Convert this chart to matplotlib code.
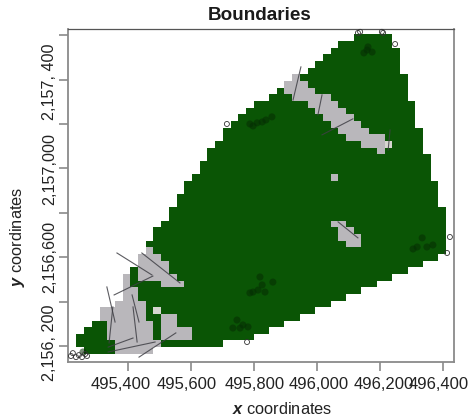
import matplotlib
matplotlib.use("Agg")
import matplotlib.pyplot as plt
from matplotlib.colors import ListedColormap
from matplotlib.transforms import ScaledTranslation
import numpy as np

plt.rcParams["font.family"] = ["Liberation Sans", "DejaVu Sans"]
plt.rcParams["mathtext.fontset"] = "custom"
plt.rcParams["mathtext.it"] = "Liberation Sans:italic:bold"

# grid of the raster
x_start = 495235.5
x_step = 24.45
y_start = 2156165
y_step = 29.96
n_cols = 48

# first and last+1 column of every row, bottom row first
row_start = [1, 0, 0, 1, 2, 3, 3, 5, 6, 6, 6, 6, 7, 8, 8, 9, 9, 10, 10, 11, 12, 12, 13, 13,
             14, 14, 15, 16, 16, 17, 17, 18, 19, 19, 20, 21, 22, 23, 25, 26, 27, 28, 30, 31,
             32, 33, 34, 36]
row_end = [5, 19, 23, 25, 27, 29, 31, 33, 35, 37, 39, 41, 43, 45, 47, 48, 48, 48, 48, 48, 48,
           48, 47, 47, 47, 47, 46, 46, 46, 46, 45, 45, 45, 45, 44, 44, 44, 44, 43, 43, 43, 43,
           42, 42, 42, 42, 41, 41]
# (row, first column, last+1 column)
gray_runs = [(0, 5, 10), (1, 5, 11), (2, 4, 10), (2, 11, 15), (3, 4, 10), (3, 11, 15),
             (4, 4, 10), (4, 11, 13), (5, 3, 9), (5, 11, 13), (6, 3, 9), (7, 5, 9), (8, 6, 8),
             (9, 6, 8), (10, 6, 7), (10, 11, 14), (11, 6, 7), (11, 8, 13), (12, 8, 12),
             (13, 8, 12), (14, 8, 11), (15, 9, 10), (16, 35, 37), (17, 34, 37), (18, 34, 36),
             (19, 33, 35), (26, 33, 34), (30, 39, 40), (31, 37, 40), (32, 35, 40),
             (33, 34, 38), (34, 33, 37), (35, 32, 36), (36, 31, 35), (37, 30, 34),
             (38, 28, 33), (39, 27, 31), (40, 27, 30), (41, 28, 29)]
light_cells = [(6, 10), (31, 40)]

# boundary points outside the raster
edge_x = [495218, 495224, 495234, 495243, 495253, 495263, 495269,
          496136, 496129, 496205, 496209, 496247, 495713, 496421, 496412, 495777]
edge_y = [2156155, 2156168, 2156150, 2156159, 2156150, 2156164, 2156155,
          2157615, 2157610, 2157615, 2157610, 2157560, 2157200, 2156691, 2156619, 2156218]

# boundary points on top of the green cells
inner_x = [495256, 496158, 496161, 496148, 496174,
           495809, 495856, 495825, 495786, 495837, 495796,
           496317, 496333, 496367, 496304, 496348,
           495818, 495796, 495812, 495859, 495786, 495834, 495825,
           495745, 495755, 495732, 495780, 495764]
inner_y = [2156173, 2157533, 2157547, 2157520, 2157524,
           2157205, 2157232, 2157209, 2157200, 2157218, 2157191,
           2156646, 2156687, 2156655, 2156637, 2156646,
           2156511, 2156443, 2156452, 2156488, 2156439, 2156443, 2156475,
           2156317, 2156281, 2156281, 2156286, 2156295]

# boundary segments x1, y1, x2, y2
segments = [(495364, 2156619, 495475, 2156520), (495443, 2156619, 495564, 2156484),
            (495355, 2156430, 495478, 2156515), (495332, 2156466, 495358, 2156308),
            (495351, 2156376, 495339, 2156214), (495412, 2156430, 495434, 2156308),
            (495415, 2156376, 495428, 2156218), (495336, 2156195, 495415, 2156236),
            (495336, 2156173, 495485, 2156218), (495434, 2156150, 495551, 2156259),
            (495948, 2157457, 495923, 2157308), (496015, 2157331, 496002, 2157241),
            (496015, 2157151, 496113, 2157223), (496231, 2157173, 496225, 2157083),
            (496066, 2156759, 496129, 2156687)]

x_ticks = [495400, 495600, 495800, 496000, 496200, 496400]
x_tick_labels = ["495,400", "495,600", "495,800", "496,000", "496,200", "496,400"]
x_label_shift = [-8, -5, 0, 1, 3, -5]
y_ticks = [2156200, 2156400, 2156600, 2156800, 2157000, 2157200, 2157400, 2157600]
y_tick_labels = ["2,156, 200", "", "2,156,600", "", "2,157,000", "", "2,157, 400", ""]
y_label_shift = [3, 0, 0, 0, -1, 0, -2, 0]

grid = np.full((len(row_start), n_cols), np.nan)
for r in range(len(row_start)):
    grid[r, row_start[r]:row_end[r]] = 0
for r, c1, c2 in gray_runs:
    grid[r, c1:c2] = 1
for r, c in light_cells:
    grid[r, c] = 2

x_edges = x_start + x_step * np.arange(n_cols + 1)
y_edges = y_start + y_step * np.arange(len(row_start) + 1)

fig = plt.figure(figsize=(4.74, 4.2), dpi=100)
ax = fig.add_axes([68 / 474, 58 / 420, 386 / 474, 333.5 / 420])
cmap = ListedColormap(["#0a5505", "#b9b7bb", "#d6d6d0"])
ax.pcolormesh(x_edges, y_edges, grid, cmap=cmap, vmin=0, vmax=2, antialiased=False, linewidth=0)

for x1, y1, x2, y2 in segments:
    ax.plot([x1, x2], [y1, y2], color="#3f3f45", lw=0.8, alpha=0.85, zorder=3)
ax.scatter(inner_x, inner_y, s=26, facecolors="#052c03", edgecolors="none", alpha=0.55, zorder=4)
ax.scatter(edge_x, edge_y, s=13, facecolors="none", edgecolors="#333333", linewidths=0.6,
           zorder=4, clip_on=False)

ax.set_xlim(495208.6, 496434)
ax.set_ylim(2156128, 2157630)
ax.set_xticks(x_ticks)
ax.set_xticklabels(x_tick_labels, fontsize=12, color="#222222")
ax.set_yticks(y_ticks)
ax.set_yticklabels(y_tick_labels, fontsize=11.6, color="#222222", rotation=90, va="center")
ax.tick_params(axis="both", direction="out", length=6.5, width=1.1, color="#808080")
ax.tick_params(axis="x", pad=4.5)
ax.tick_params(axis="y", pad=1.5)
for lab, dx in zip(ax.get_xticklabels(), x_label_shift):
    lab.set_transform(lab.get_transform() + ScaledTranslation(dx / 100, 0, fig.dpi_scale_trans))
for lab, dy in zip(ax.get_yticklabels(), y_label_shift):
    lab.set_transform(lab.get_transform() + ScaledTranslation(0, dy / 100, fig.dpi_scale_trans))

for side in ["left", "right", "bottom"]:
    ax.spines[side].set_color("#8a8a8a")
    ax.spines[side].set_linewidth(1.3)
ax.spines["top"].set_color("#555555")
ax.spines["top"].set_linewidth(0.9)

fig.text(260 / 474, 1 - 16 / 420, "Boundaries", fontsize=13.6, fontweight="bold",
         ha="center", va="center", color="#1a1a1a")
fig.text(282 / 474, 1 - 409 / 420, r"$\mathit{x}$ coordinates", fontsize=11.8,
         ha="center", va="center", color="#222222")
fig.text(18 / 474, 1 - 237 / 420, r"$\mathit{y}$ coordinates", fontsize=11.8, rotation=90,
         ha="center", va="center", color="#222222")

fig.savefig("out.png", dpi=100)
